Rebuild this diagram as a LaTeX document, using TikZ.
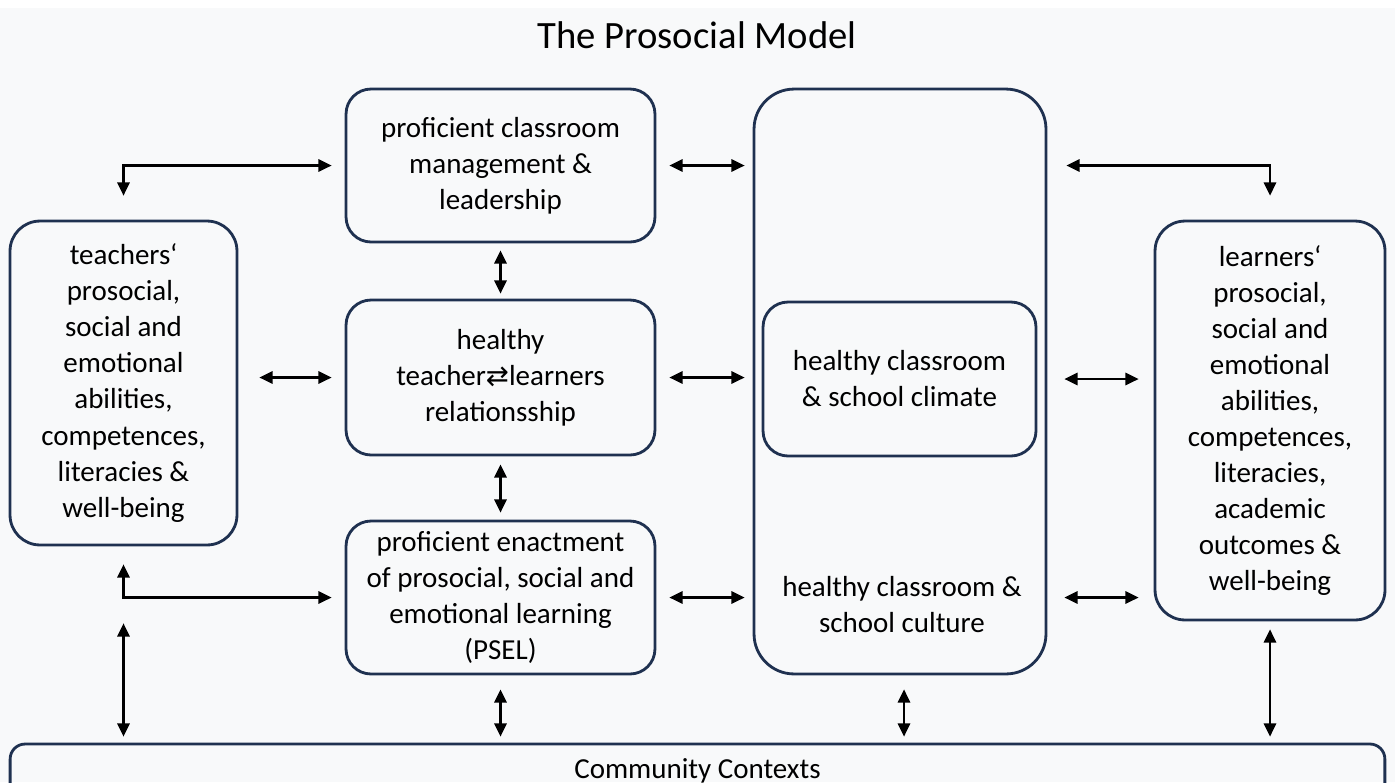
\documentclass[tikz,border=0pt]{standalone}
\usepackage{fontspec}
\setmainfont{Carlito}
\newfontfamily\arrowfont{DejaVu Sans}[Scale=0.95]
\usetikzlibrary{arrows.meta}
\definecolor{boxline}{HTML}{1F3150}
\definecolor{canvas}{HTML}{F8F9FA}

\begin{document}
\begin{tikzpicture}[x=0.02cm,y=-0.02cm,
  font=\fontsize{16.5}{20.5}\selectfont,
  box/.style={draw=boxline, line width=1.6pt, rounded corners=0.5cm, align=center, inner sep=0pt},
  link/.style={{Triangle[length=7.5pt,width=7pt]}-{Triangle[length=7.5pt,width=7pt]},
    line width=1.2pt, shorten <=0.2cm, shorten >=0.2cm}]

  \useasboundingbox[fill=white] (0,0) rectangle (1395,782);
  \fill[canvas] (0,8) rectangle (1395,782);

  \node (title) at (697,35) {\fontsize{22}{26}\selectfont The Prosocial Model};

  %==================================================

  \node[box, minimum width=6.18cm, minimum height=3.06cm] (mgmt) at (500.5,165.5)
    {proficient classroom\\management \&\\leadership};
  \node[box, minimum width=6.18cm, minimum height=3.10cm] (rel) at (500.5,377.5)
    {healthy\\teacher{\arrowfont ⇄}learners\\relationsship};
  \node[box, minimum width=6.18cm, minimum height=3.06cm] (psel) at (500.5,597.5)
    {proficient enactment\\of prosocial, social and\\emotional learning\\(PSEL)};

  \node[box, rounded corners=0.6cm, minimum width=4.54cm, minimum height=6.48cm] (teach) at (123.5,383)
    {teachers‘\\prosocial,\\social and\\emotional\\abilities,\\competences,\\literacies \&\\well-being};

  \node[box, rounded corners=0.8cm, minimum width=5.84cm, minimum height=11.7cm] (big) at (900,381.5) {};
  \node[box, minimum width=5.46cm, minimum height=3.08cm] (climate) at (899.5,379)
    {healthy classroom\\\& school climate};
  \node[align=center] (culture) at (902,605) {healthy classroom \&\\school culture};

  \node[box, rounded corners=0.6cm, minimum width=4.6cm, minimum height=7.98cm] (learn) at (1270,420.5)
    {learners‘\\prosocial,\\social and\\emotional\\abilities,\\competences,\\literacies,\\academic\\outcomes \&\\well-being};

  \node[box, rounded corners=0.3cm, minimum width=27.5cm, minimum height=1.12cm] (comm) at (697.5,772)
    {\raisebox{0.12cm}{Community Contexts}};

  %==================================================

  \draw[link, shorten <=0.48cm, shorten >=0.26cm] (teach.north) |- (mgmt.west);
  \draw[link, shorten <=0.48cm, shorten >=0.38cm] (learn.north) |- (mgmt.east -| big.east);
  \draw[link, shorten <=0.36cm, shorten >=0.26cm] (teach.south) |- (psel.west);

  \draw[link, shorten <=0.26cm, shorten >=0.16cm] (mgmt.east) -- (mgmt.east -| big.west);
  \draw[link, shorten <=0.26cm, shorten >=0.16cm] (rel.east) -- (rel.east -| big.west);
  \draw[link, shorten <=0.26cm, shorten >=0.16cm] (psel.east) -- (psel.east -| big.west);
  \draw[link, shorten <=0.42cm, shorten >=0.26cm] (rel.west -| teach.east) -- (rel.west);
  \draw[link, shorten <=0.34cm, shorten >=0.3cm] (climate.east -| big.east) -- (climate.east -| learn.west);
  \draw[link, shorten <=0.34cm, shorten >=0.3cm] (psel.east -| big.east) -- (psel.east -| learn.west);

  \draw[link, shorten <=0.14cm, shorten >=0.1cm] (mgmt.south) -- (rel.north);
  \draw[link, shorten <=0.16cm, shorten >=0.14cm] (rel.south) -- (psel.north);

  \draw[link, shorten <=1.54cm, shorten >=0.12cm] (teach.south) -- (teach.south |- comm.north);
  \draw[link, shorten <=0.28cm, shorten >=0.12cm] (psel.south) -- (psel.south |- comm.north);
  \draw[link, shorten <=0.28cm, shorten >=0.12cm] ([xshift=0.08cm]big.south) -- ([xshift=0.08cm]big.south |- comm.north);
  \draw[link, shorten <=0.16cm, shorten >=0.12cm] (learn.south) -- (learn.south |- comm.north);

\end{tikzpicture}
\end{document}
